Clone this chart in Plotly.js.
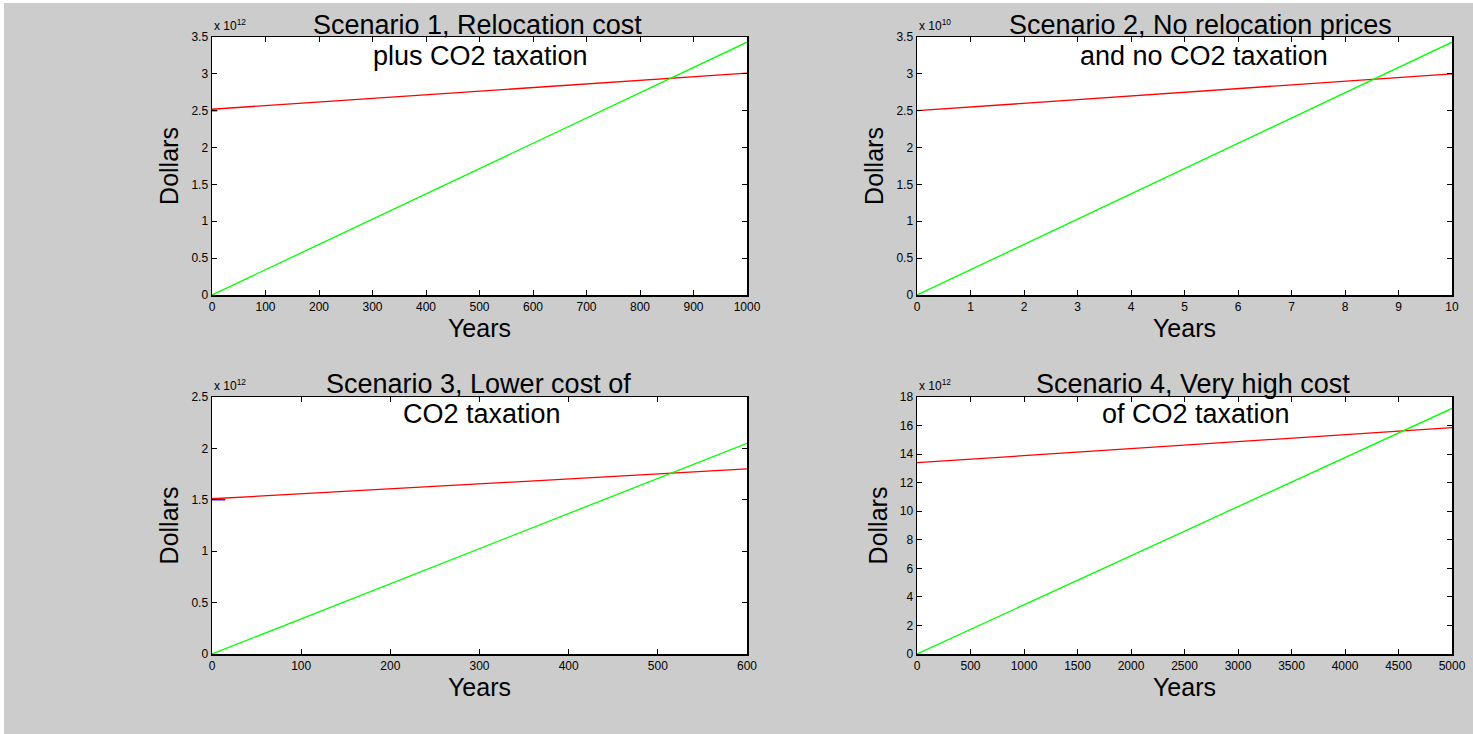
<!DOCTYPE html>
<html>
<head>
<meta charset="utf-8">
<script src="https://cdn.plot.ly/plotly-3.0.1.min.js"></script>
<style>
html,body{margin:0;padding:0;background:#ffffff;}
#chart{position:absolute;left:4px;top:3px;width:1469px;height:731px;}
</style>
</head>
<body>
<div id="chart"></div>
<script>
// Scenario 1 (x 10^12 dollars), years 0..1000
const s1Years = [0, 1000];
const s1Relocation = [2.52e12, 3.01e12];
const s1Taxation = [0, 3.43e12];
const s1BlueYears = [0, 10];
const s1Blue = [2.5e12, 2.5e12];
// Scenario 2 (x 10^10 dollars), years 0..10
const s2Years = [0, 10];
const s2Relocation = [2.5e10, 3.0e10];
const s2Taxation = [0, 3.43e10];
// Scenario 3 (x 10^12 dollars), years 0..600
const s3Years = [0, 600];
const s3Relocation = [1.51e12, 1.8e12];
const s3Taxation = [0, 2.05e12];
const s3BlueYears = [0, 15];
const s3Blue = [1.5e12, 1.5e12];
// Scenario 4 (x 10^12 dollars), years 0..5000
const s4Years = [0, 5000];
const s4Relocation = [13.4e12, 15.85e12];
const s4Taxation = [0, 17.2e12];

const titleLine1 = [
  "Scenario 1, Relocation cost",
  "Scenario 2, No relocation prices",
  "Scenario 3, Lower cost of",
  "Scenario 4, Very high cost"
];
const titleLine2 = [
  "plus CO2 taxation",
  "and no CO2 taxation",
  "CO2 taxation",
  "of CO2 taxation"
];
const exponents = [12, 10, 12, 12];
const xRanges = [[0,1000],[0,10],[0,600],[0,5000]];
const xDtick = [100, 1, 100, 500];
const yRanges = [[0,3.5],[0,3.5],[0,2.5],[0,18]];
const yDtick = [0.5, 0.5, 0.5, 2];

const W = 1469, H = 731, OX = 4, OY = 3;
const xd = [[(212-OX)/W, (747-OX)/W], [(917-OX)/W, (1452-OX)/W]];
const yd = [[1-(295-OY)/H, 1-(37-OY)/H], [1-(654-OY)/H, 1-(397-OY)/H]];
const titleXShift = [-2, 16, -1, 8];

function sc(arr, e){ return arr.map(v => v/Math.pow(10,e)); }

const RED = '#ff0000', GREEN = '#00ff00', BLUE = '#0000ff';
const data = [];
function add(i, xs, ys, color){
  const ax = i===0 ? '' : String(i+1);
  data.push({x: xs, y: sc(ys, exponents[i]), type:'scatter', mode:'lines',
    line:{color:color, width:1.3}, xaxis:'x'+ax, yaxis:'y'+ax, hoverinfo:'skip', showlegend:false});
}
add(0, s1Years, s1Relocation, RED);
add(0, s1Years, s1Taxation, GREEN);
add(0, s1BlueYears, s1Blue, BLUE);
add(1, s2Years, s2Relocation, RED);
add(1, s2Years, s2Taxation, GREEN);
add(2, s3Years, s3Relocation, RED);
add(2, s3Years, s3Taxation, GREEN);
add(2, s3BlueYears, s3Blue, BLUE);
add(3, s4Years, s4Relocation, RED);
add(3, s4Years, s4Taxation, GREEN);

const FONT = 'Liberation Sans, Arial, sans-serif';
const layout = {
  width: W, height: H,
  margin:{l:0,r:0,t:0,b:0},
  paper_bgcolor:'#cccccc', plot_bgcolor:'#ffffff',
  font:{family:FONT, color:'#000000'},
  showlegend:false,
  annotations: []
};
for (let i=0;i<4;i++){
  const ax = i===0 ? '' : String(i+1);
  const col = i%2, row = Math.floor(i/2);
  layout['xaxis'+ax] = {
    domain: xd[col], anchor:'y'+ax, range: xRanges[i], dtick: xDtick[i], tick0:0,
    showline:true, linecolor:'#000', linewidth:1.5, mirror:'ticks',
    ticks:'inside', ticklen:5, tickcolor:'#000', tickwidth:1,
    showgrid:false, zeroline:false, tickfont:{size:12, family:FONT},
    title:{text:'Years', font:{size:25, family:FONT}, standoff:6}
  };
  layout['yaxis'+ax] = {
    domain: yd[row], anchor:'x'+ax, range: yRanges[i], dtick: yDtick[i], tick0:0,
    showline:true, linecolor:'#000', linewidth:1.5, mirror:'ticks',
    ticks:'inside', ticklen:5, tickcolor:'#000', tickwidth:1,
    showgrid:false, zeroline:false, tickfont:{size:12, family:FONT},
    title:{text:'Dollars', font:{size:25, family:FONT}, standoff:5}
  };
  const s1 = row===0 ? 12 : 13, s2 = row===0 ? -19 : -17;
  layout.annotations.push({
    text: titleLine1[i], xref:'x'+ax+' domain', yref:'y'+ax+' domain',
    x:0.5, y:1, xanchor:'center', yanchor:'middle', xshift:titleXShift[i], yshift:s1, showarrow:false,
    font:{size:27, family:FONT, color:'#000'}
  });
  layout.annotations.push({
    text: titleLine2[i], xref:'x'+ax+' domain', yref:'y'+ax+' domain',
    x:0.5, y:1, xanchor:'center', yanchor:'middle', xshift:titleXShift[i]+3, yshift:s2, showarrow:false,
    font:{size:27, family:FONT, color:'#000'}
  });
  layout.annotations.push({
    text: 'x 10<sup>'+exponents[i]+'</sup>', xref:'x'+ax+' domain', yref:'y'+ax+' domain',
    x:0, y:1, xanchor:'left', yanchor:'bottom', yshift:2, showarrow:false,
    font:{size:12, family:FONT, color:'#000'}
  });
}
Plotly.newPlot('chart', data, layout, {displayModeBar:false, staticPlot:true});
</script>
</body>
</html>
